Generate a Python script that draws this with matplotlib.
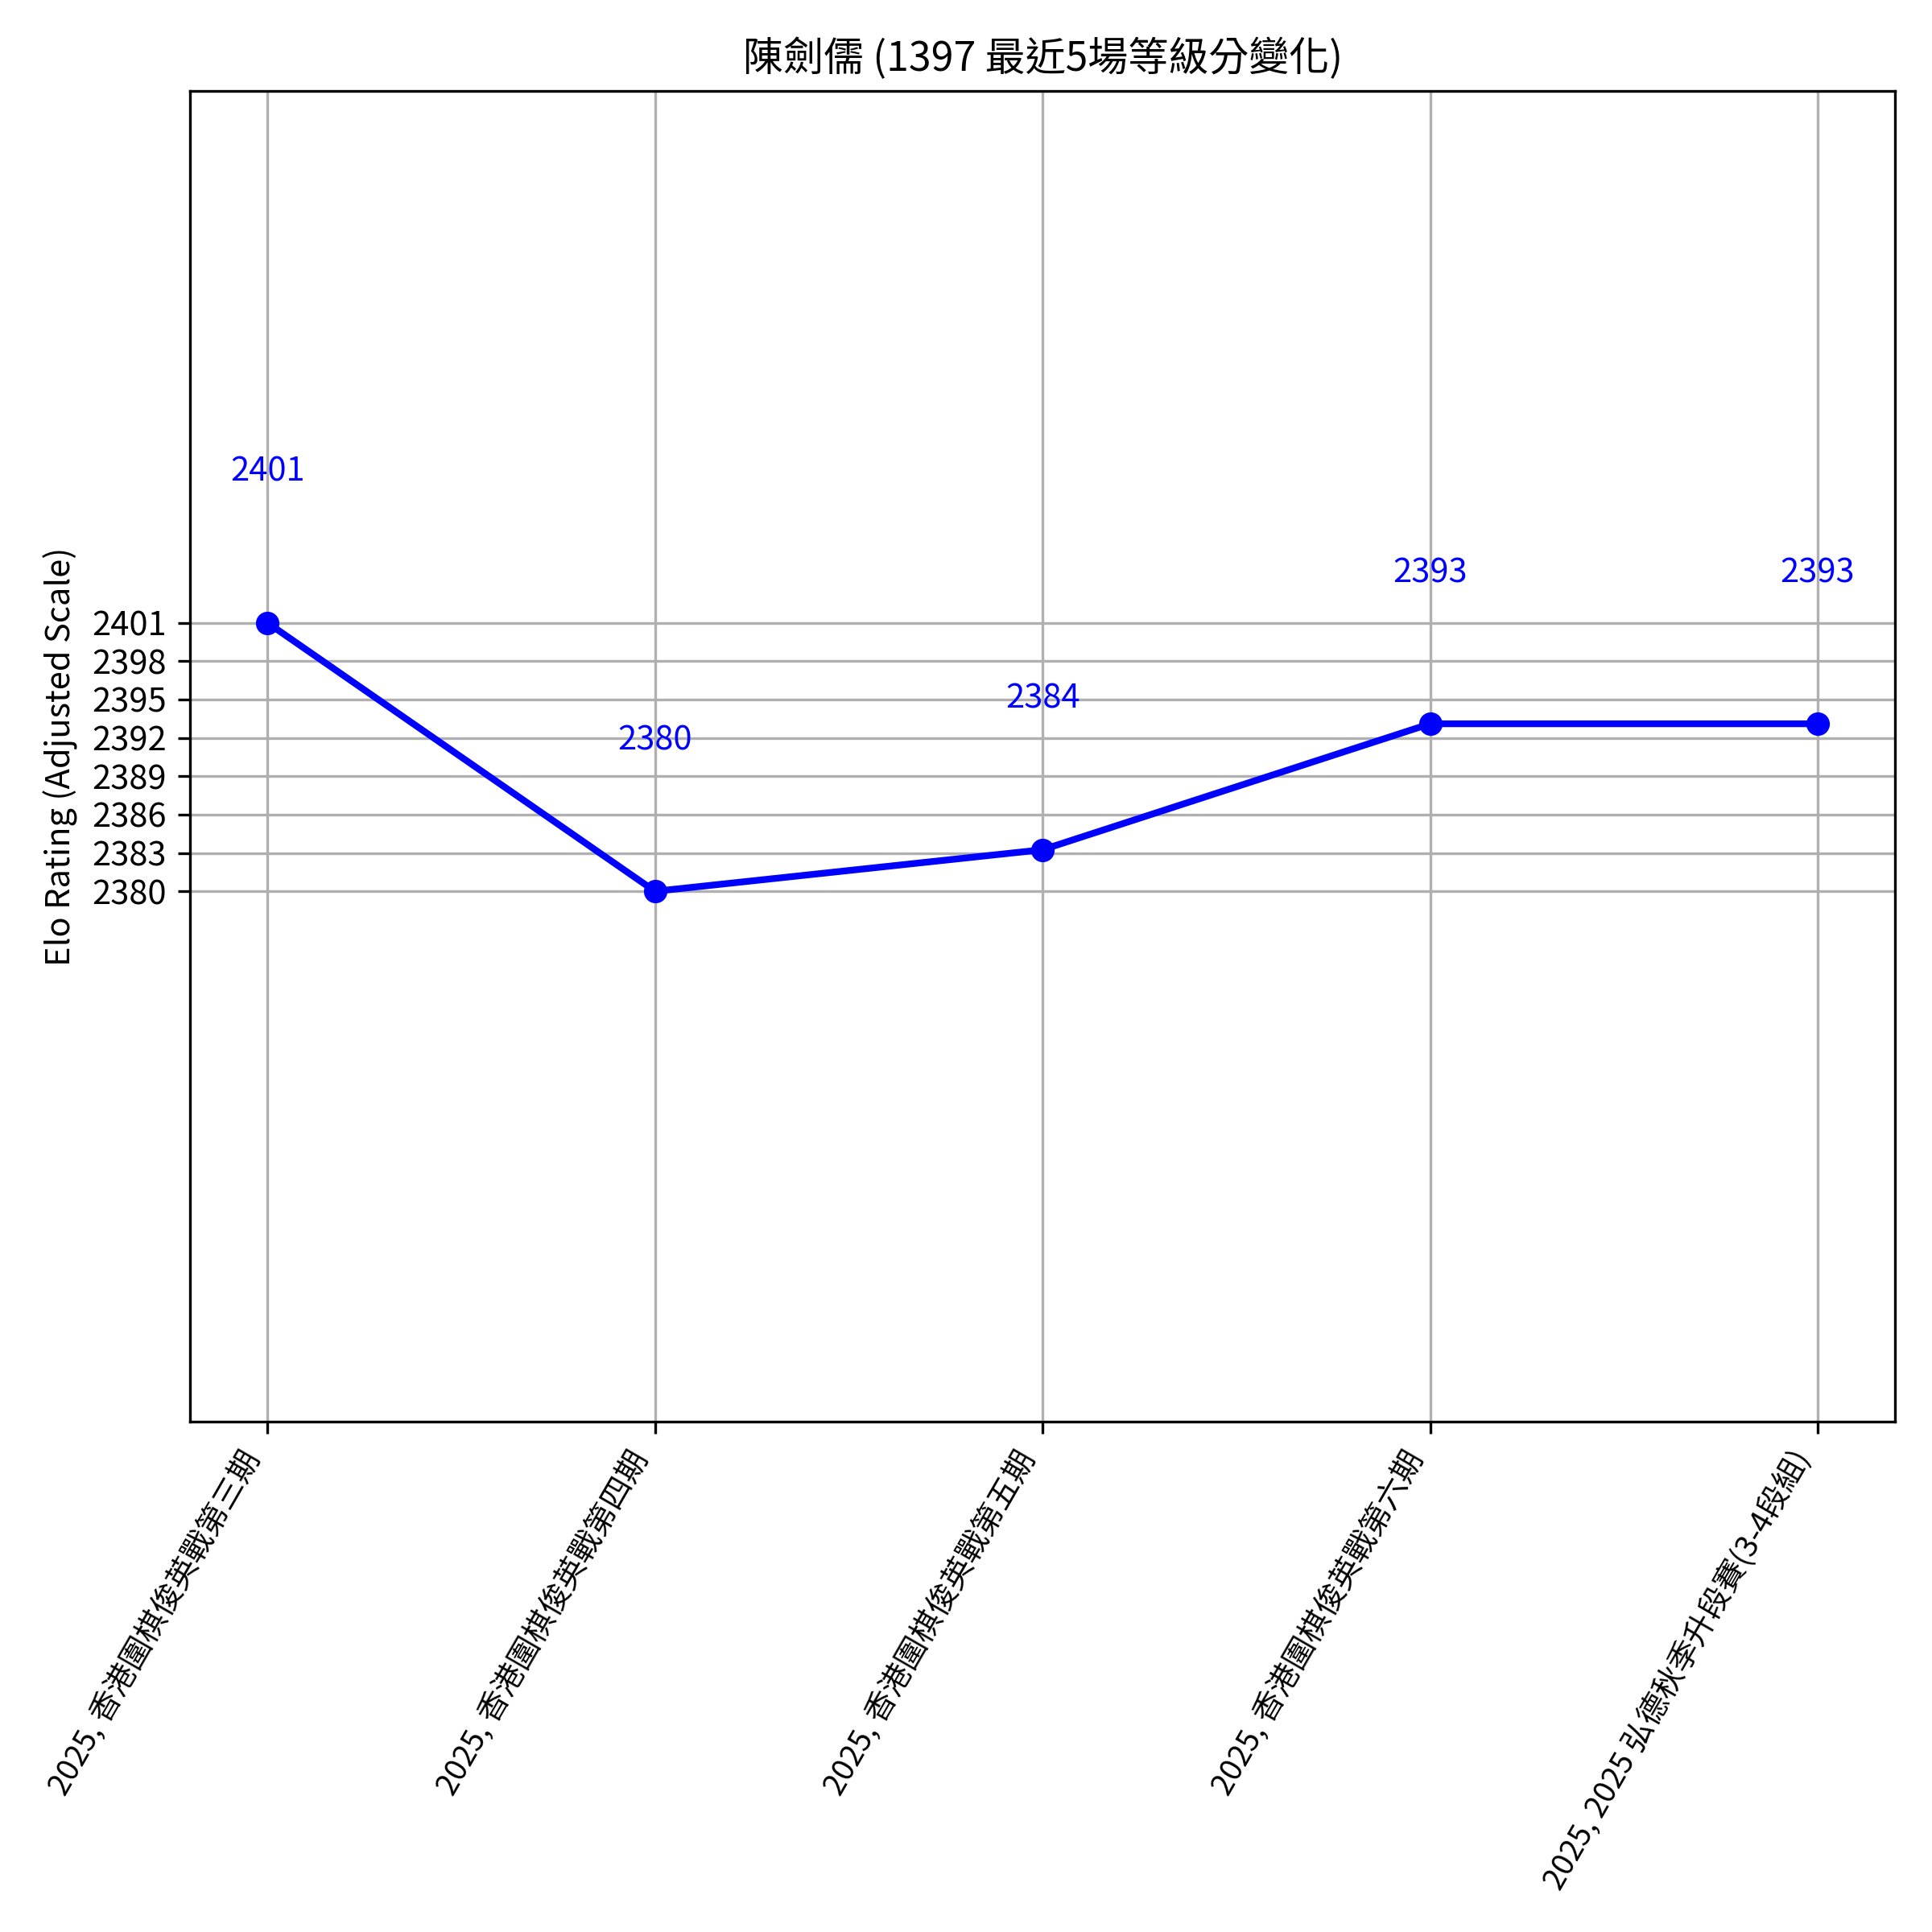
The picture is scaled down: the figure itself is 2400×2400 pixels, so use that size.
import matplotlib
matplotlib.use("Agg")
import matplotlib.pyplot as plt

plt.rcParams['font.family'] = ['Noto Sans CJK TC', 'DejaVu Sans']

# data
events = [
    "2025, 香港圍棋俊英戰第三期",
    "2025, 香港圍棋俊英戰第四期",
    "2025, 香港圍棋俊英戰第五期",
    "2025, 香港圍棋俊英戰第六期",
    "2025, 2025 弘德秋季升段賽(3-4段組)",
]
ratings = [2401.0, 2380.0, 2383.25, 2393.1, 2393.1]
point_labels = ["2401", "2380", "2384", "2393", "2393"]
yticks = [2380, 2383, 2386, 2389, 2392, 2395, 2398, 2401]
ylim = (2338.5, 2442.6)

fig, ax = plt.subplots(figsize=(8, 8), dpi=300)
x = list(range(len(events)))
ax.plot(x, ratings, marker='o', color='blue', linewidth=2, markersize=6)

for xi, v, lab in zip(x, ratings, point_labels):
    ax.annotate(lab, (xi, v), textcoords='offset points', xytext=(0, 45),
                ha='center', va='center', color='blue', fontsize=10)

ax.set_xticks(x)
ax.set_xticklabels(events, rotation=60, ha='right', fontsize=9.2)
ax.set_yticks(yticks)
ax.set_ylim(*ylim)
ax.set_ylabel("Elo Rating (Adjusted Scale)")
ax.set_title("陳劍儒 (1397 最近5場等級分變化)")
ax.grid(True)

fig.subplots_adjust(left=0.0983, right=0.981, top=0.953, bottom=0.264)
fig.savefig("out.png", dpi=300)
